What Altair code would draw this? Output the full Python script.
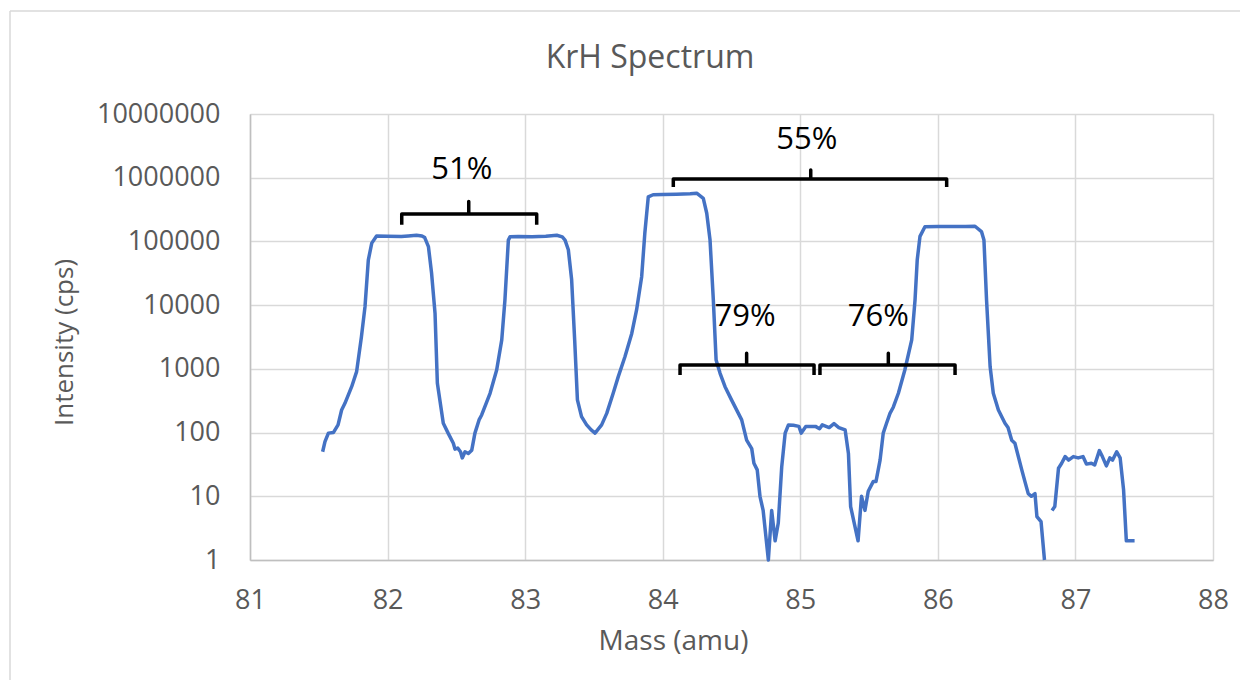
import altair as alt
import pandas as pd

# ---- spectrum data ----
mass_a = [81.528, 81.545, 81.57, 81.606, 81.64, 81.666, 81.69, 81.739, 81.775, 81.81, 81.836, 81.86,
          81.885, 81.92, 82.0, 82.1, 82.15, 82.21, 82.25, 82.27, 82.297, 82.32, 82.345, 82.362, 82.405,
          82.44, 82.478, 82.49, 82.51, 82.53, 82.543, 82.563, 82.587, 82.612, 82.635, 82.665, 82.684,
          82.745, 82.793, 82.83, 82.853, 82.878, 82.89, 82.95, 83.05, 83.15, 83.23, 83.27, 83.29, 83.314,
          83.338, 83.36, 83.38, 83.41, 83.447, 83.48, 83.508, 83.556, 83.593, 83.64, 83.677, 83.726,
          83.775, 83.81, 83.847, 83.87, 83.895, 83.93, 84.0, 84.1, 84.2, 84.247, 84.295, 84.32, 84.344,
          84.368, 84.388, 84.417, 84.453, 84.5, 84.55, 84.574, 84.61, 84.647, 84.663, 84.687, 84.707,
          84.73, 84.768, 84.792, 84.817, 84.84, 84.865, 84.89, 84.914, 84.95, 84.99, 85.007, 85.04,
          85.11, 85.14, 85.16, 85.21, 85.245, 85.28, 85.326, 85.35, 85.366, 85.42, 85.445, 85.47,
          85.494, 85.53, 85.55, 85.58, 85.603, 85.627, 85.652, 85.676, 85.713, 85.76, 85.81, 85.834,
          85.85, 85.87, 85.906, 86.0, 86.1, 86.2, 86.27, 86.317, 86.335, 86.354, 86.38, 86.403, 86.44,
          86.488, 86.51, 86.537, 86.56, 86.61, 86.633, 86.657, 86.68, 86.706, 86.72, 86.75, 86.775]
intensity_a = [50, 72, 98, 100, 132, 226, 288, 525, 905, 3200, 9470, 51000,
               94000, 122000, 121000, 120000, 122000, 125000, 122000, 115000, 83000, 31600, 7450, 595, 140,
               98, 68, 55, 57, 50, 40, 50, 47, 53, 98, 158, 189,
               414, 960, 2850, 12000, 105000, 118000, 119000, 118000, 121000, 125000, 118000, 105000, 74000,
               25000, 2850, 326, 178, 132, 110, 98, 132, 200, 414, 755, 1560,
               3600, 8400, 28000, 135000, 500000, 540000, 545000, 550000, 560000, 571000, 475000, 277000, 105000,
               12000, 1380, 850, 525, 326, 200, 158, 76, 56, 33, 26, 10,
               6, 1, 6, 2, 3.8, 29, 98, 132, 130, 125, 98, 125,
               125, 115, 132, 120, 138, 120, 110, 47, 6.9, 2, 10, 6,
               12, 17, 17, 37, 98, 140, 200, 250, 414, 960, 2850, 12000,
               51000, 120000, 170000, 172000, 171000, 172000, 173000, 143000, 105000, 12000, 1080, 414, 226,
               140, 120, 76, 68, 26, 17, 11, 10, 11, 4.8, 4, 1]

mass_b = [86.83, 86.85, 86.877, 86.9, 86.925, 86.95, 86.985, 87.02, 87.055, 87.08, 87.116, 87.14,
          87.174, 87.196, 87.225, 87.25, 87.27, 87.3, 87.325, 87.35, 87.37, 87.43]
intensity_b = [6, 6.9, 27.5, 33, 42, 37, 42, 40, 42, 32, 33, 31,
               52, 42, 30, 40, 37, 50, 40, 12.6, 2, 2]

# ---- bracket annotations ----
bracket_labels = ["51%", "55%", "79%", "76%"]
bracket_left = [82.103, 84.077, 84.126, 85.143]
bracket_right = [83.084, 86.064, 85.100, 86.125]
bracket_center = [82.59, 85.076, 84.61, 85.64]
bracket_line_y = [269000, 955000, 1150, 1150]
bracket_end_y = [182000, 718000, 802, 802]
bracket_top_y = [422000, 1320000, 1758, 1758]
label_x = [82.54, 85.047, 84.598, 85.567]
label_y = [1320000, 3900000, 6600, 6600]

x_ticks = [81, 82, 83, 84, 85, 86, 87, 88]
y_ticks = [1, 10, 100, 1000, 10000, 100000, 1000000, 10000000]
chart_title = ["KrH Spectrum"]

FONT = "Open Sans"
GREY = "#595959"

spec = pd.DataFrame({
    "mass": mass_a + mass_b,
    "intensity": intensity_a + intensity_b,
    "seg": ["a"] * len(mass_a) + ["b"] * len(mass_b),
})

rows = []
for i, lab in enumerate(bracket_labels):
    pts = [(bracket_left[i], bracket_end_y[i]), (bracket_left[i], bracket_line_y[i]),
           (bracket_center[i], bracket_line_y[i]), (bracket_center[i], bracket_top_y[i]),
           (bracket_center[i], bracket_line_y[i]), (bracket_right[i], bracket_line_y[i]),
           (bracket_right[i], bracket_end_y[i])]
    for j, (bx, by) in enumerate(pts):
        rows.append({"b": lab, "k": j, "bx": bx, "by": by})
brackets = pd.DataFrame(rows)
labels = pd.DataFrame({"t": bracket_labels, "lx": label_x, "ly": label_y})
titles = pd.DataFrame({"t": chart_title})

xscale = alt.Scale(domain=[81, 88], nice=False, zero=False)
yscale = alt.Scale(type="log", domain=[1, 10000000], nice=False)

xaxis = alt.Axis(values=x_ticks, format="d", title="Mass (amu)", grid=True, ticks=False,
                 labelFontSize=27, labelFont=FONT, labelColor=GREY, labelPadding=27, labelFlush=False,
                 titleFont=FONT, titleFontSize=28, titleColor=GREY, titleFontWeight="normal",
                 titleX=423, titleY=81, titleBaseline="middle", titleAlign="center",
                 domainColor="#BFBFBF", domainWidth=1.5, gridColor="#D9D9D9", gridWidth=1.5)
yaxis = alt.Axis(values=y_ticks, format="d", title="Intensity (cps)", grid=True, ticks=False,
                 labelFontSize=27, labelFont=FONT, labelColor=GREY, labelPadding=30, labelFlush=False,
                 titleFont=FONT, titleFontSize=26, titleColor=GREY, titleFontWeight="normal",
                 titleX=-186, titleY=228, titleBaseline="middle", titleAlign="center", titleAngle=-90,
                 domainColor="#BFBFBF", domainWidth=1.5, gridColor="#D9D9D9", gridWidth=1.5)

line = alt.Chart(spec).mark_line(color="#4472C4", strokeWidth=3.5, strokeJoin="round").encode(
    x=alt.X("mass:Q", scale=xscale, axis=xaxis),
    y=alt.Y("intensity:Q", scale=yscale, axis=yaxis),
    detail="seg:N",
)

br = alt.Chart(brackets).mark_line(color="black", strokeWidth=3.5, strokeJoin="round").encode(
    x=alt.X("bx:Q", scale=xscale),
    y=alt.Y("by:Q", scale=yscale),
    detail="b:N",
    order="k:Q",
)

txt = alt.Chart(labels).mark_text(font=FONT, fontSize=31, color="black", baseline="middle").encode(
    x=alt.X("lx:Q", scale=xscale),
    y=alt.Y("ly:Q", scale=yscale),
    text="t:N",
)

title_txt = alt.Chart(titles).mark_text(font=FONT, fontSize=32, color=GREY, baseline="middle",
                                        align="center").encode(
    x=alt.value(400), y=alt.value(-56), text="t:N")

# chart-area frame (left and top edges)
frame_l = alt.Chart(titles).mark_rule(color="#D9D9D9", strokeWidth=1.5).encode(
    x=alt.value(-240), y=alt.value(-103), y2=alt.value(700))
frame_t = alt.Chart(titles).mark_rule(color="#D9D9D9", strokeWidth=1.5).encode(
    x=alt.value(-240), x2=alt.value(1100), y=alt.value(-103))

chart = alt.layer(frame_l, frame_t, line, br, txt, title_txt).properties(
    width=963, height=446,
    autosize=alt.AutoSizeParams(type="none"),
    padding={"left": 242, "top": 106, "right": 27, "bottom": 120},
).configure_view(stroke=None).configure(background="white")

chart.save("out.html", embed_options={"renderer": "svg", "actions": False})
